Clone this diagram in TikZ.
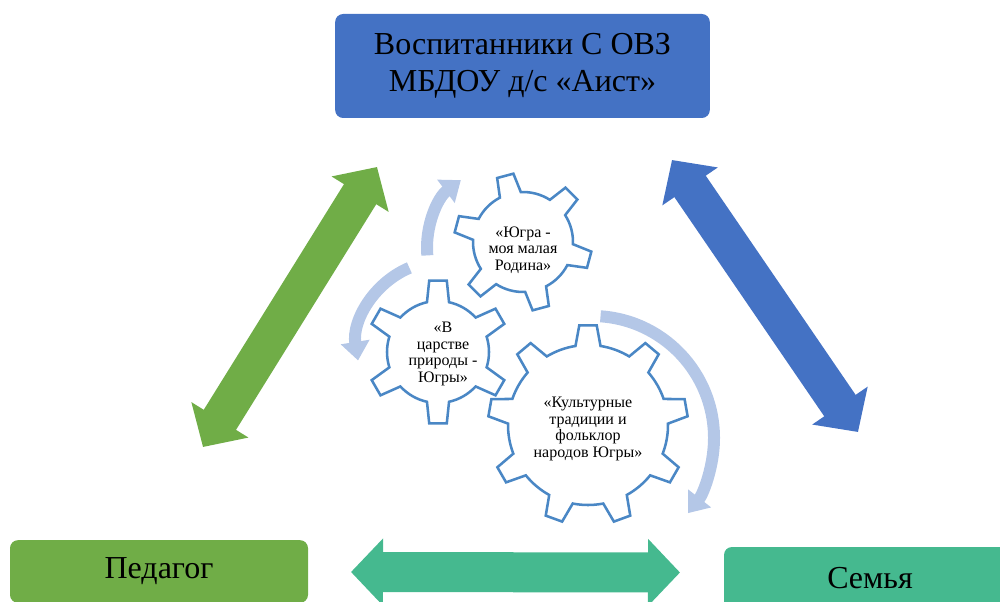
\documentclass[tikz,border=0pt]{standalone}
\usepackage{fontspec}
\setmainfont{Liberation Serif}
\usetikzlibrary{arrows.meta}

\definecolor{boxblue}{HTML}{4472C4}
\definecolor{boxgreen}{HTML}{70AD47}
\definecolor{boxteal}{HTML}{45B98F}
\definecolor{gearblue}{HTML}{4A87C5}
\definecolor{arclight}{HTML}{B4C7E7}

% gear: center, teeth, outer radius, root radius, first tooth angle, tip half angle, root half angle
\newcommand{\drawgear}[7]{%
  \begin{scope}[shift={#1}]
    \pgfmathsetmacro{\gstep}{360/#2}
    \draw[gearline] ({#5-#7}:#4)
      \foreach \i in {1,...,#2}{
        -- ({#5+(\i-1)*\gstep-#6}:#3) -- ({#5+(\i-1)*\gstep+#6}:#3)
        -- ({#5+(\i-1)*\gstep+#7}:#4)
        arc[start angle={#5+(\i-1)*\gstep+#7}, end angle={#5+\i*\gstep-#7}, radius=#4]
      } -- cycle;
  \end{scope}}

\begin{document}
\begin{tikzpicture}[x=0.75pt,y=0.75pt]
  \tikzstyle{mainbox}=[rounded corners=6pt, text=black, align=center, inner sep=0pt,
                       font=\fontsize{24}{28}\selectfont]
  \tikzstyle{gearline}=[draw=gearblue, line width=1.9pt, fill=white, line join=miter]
  \tikzstyle{geartext}=[text=black, align=center, font=\fontsize{12}{12.5}\selectfont]
  \tikzstyle{twoway}=[line width=28.5pt,
                      arrows={Triangle[length=24pt,width=49pt]-Triangle[length=24pt,width=49pt]}]
  \tikzstyle{roundarrow}=[draw=arclight, line width=9pt,
                          arrows={-Triangle[length=14pt,width=21pt]}]

  \useasboundingbox (0,0) rectangle (1000,601);
  \clip (0,0) rectangle (1000,601);

  % the three boxes
  \node[mainbox, fill=boxblue, minimum width=281pt, minimum height=78pt]
       (pupils) at (522.5,535) {Воспитанники С ОВЗ\\МБДОУ д/с «Аист»};
  \node[mainbox, fill=boxgreen, minimum width=223.5pt, minimum height=47pt]
       (teacher) at (159,29.5) {Педагог};
  \node[mainbox, fill=boxteal, minimum width=219pt, minimum height=46.5pt]
       (family) at (870,23) {Семья};

  % two-way arrows between them
  \coordinate (gLow)   at (203,154);
  \coordinate (gHigh)  at (377,434);
  \coordinate (bHigh)  at (672,441);
  \coordinate (bLow)   at (858,169);
  \coordinate (tLeft)  at (351,29);
  \coordinate (tRight) at (680,28.5);

  \draw[twoway, boxgreen] (gLow) -- (gHigh);
  \draw[twoway, boxblue]  (bHigh) -- (bLow);
  \draw[twoway, boxteal, line width=30pt] (tLeft) -- (tRight);

  % turning arrows round the gears
  \coordinate (bigArc)  at (592,163);
  \coordinate (leftArc) at (443,254);
  \coordinate (topArc)  at (512,353);

  \draw[roundarrow] ([shift={(86:122)}]bigArc) arc[start angle=86, end angle=-38, radius=122];
  \draw[roundarrow] ([shift={(113:86)}]leftArc) arc[start angle=113, end angle=189, radius=86];
  \draw[roundarrow] ([shift={(185:85)}]topArc) arc[start angle=185, end angle=127, radius=85];

  % gears
  \drawgear{(588,176)}{9}{100}{80}{90}{5}{9}
  \drawgear{(438,249)}{6}{72}{51}{90}{7}{12.5}
  \drawgear{(523,359)}{6}{69}{50}{105}{7}{12.5}

  \node[geartext] (homeland) at (523,351) {«Югра -\\моя малая\\Родина»};
  \node[geartext] (nature)   at (443,247) {«В\\царстве\\природы -\\Югры»};
  \node[geartext] (folklore) at (588,172) {«Культурные\\традиции и\\фольклор\\народов Югры»};
\end{tikzpicture}
\end{document}
